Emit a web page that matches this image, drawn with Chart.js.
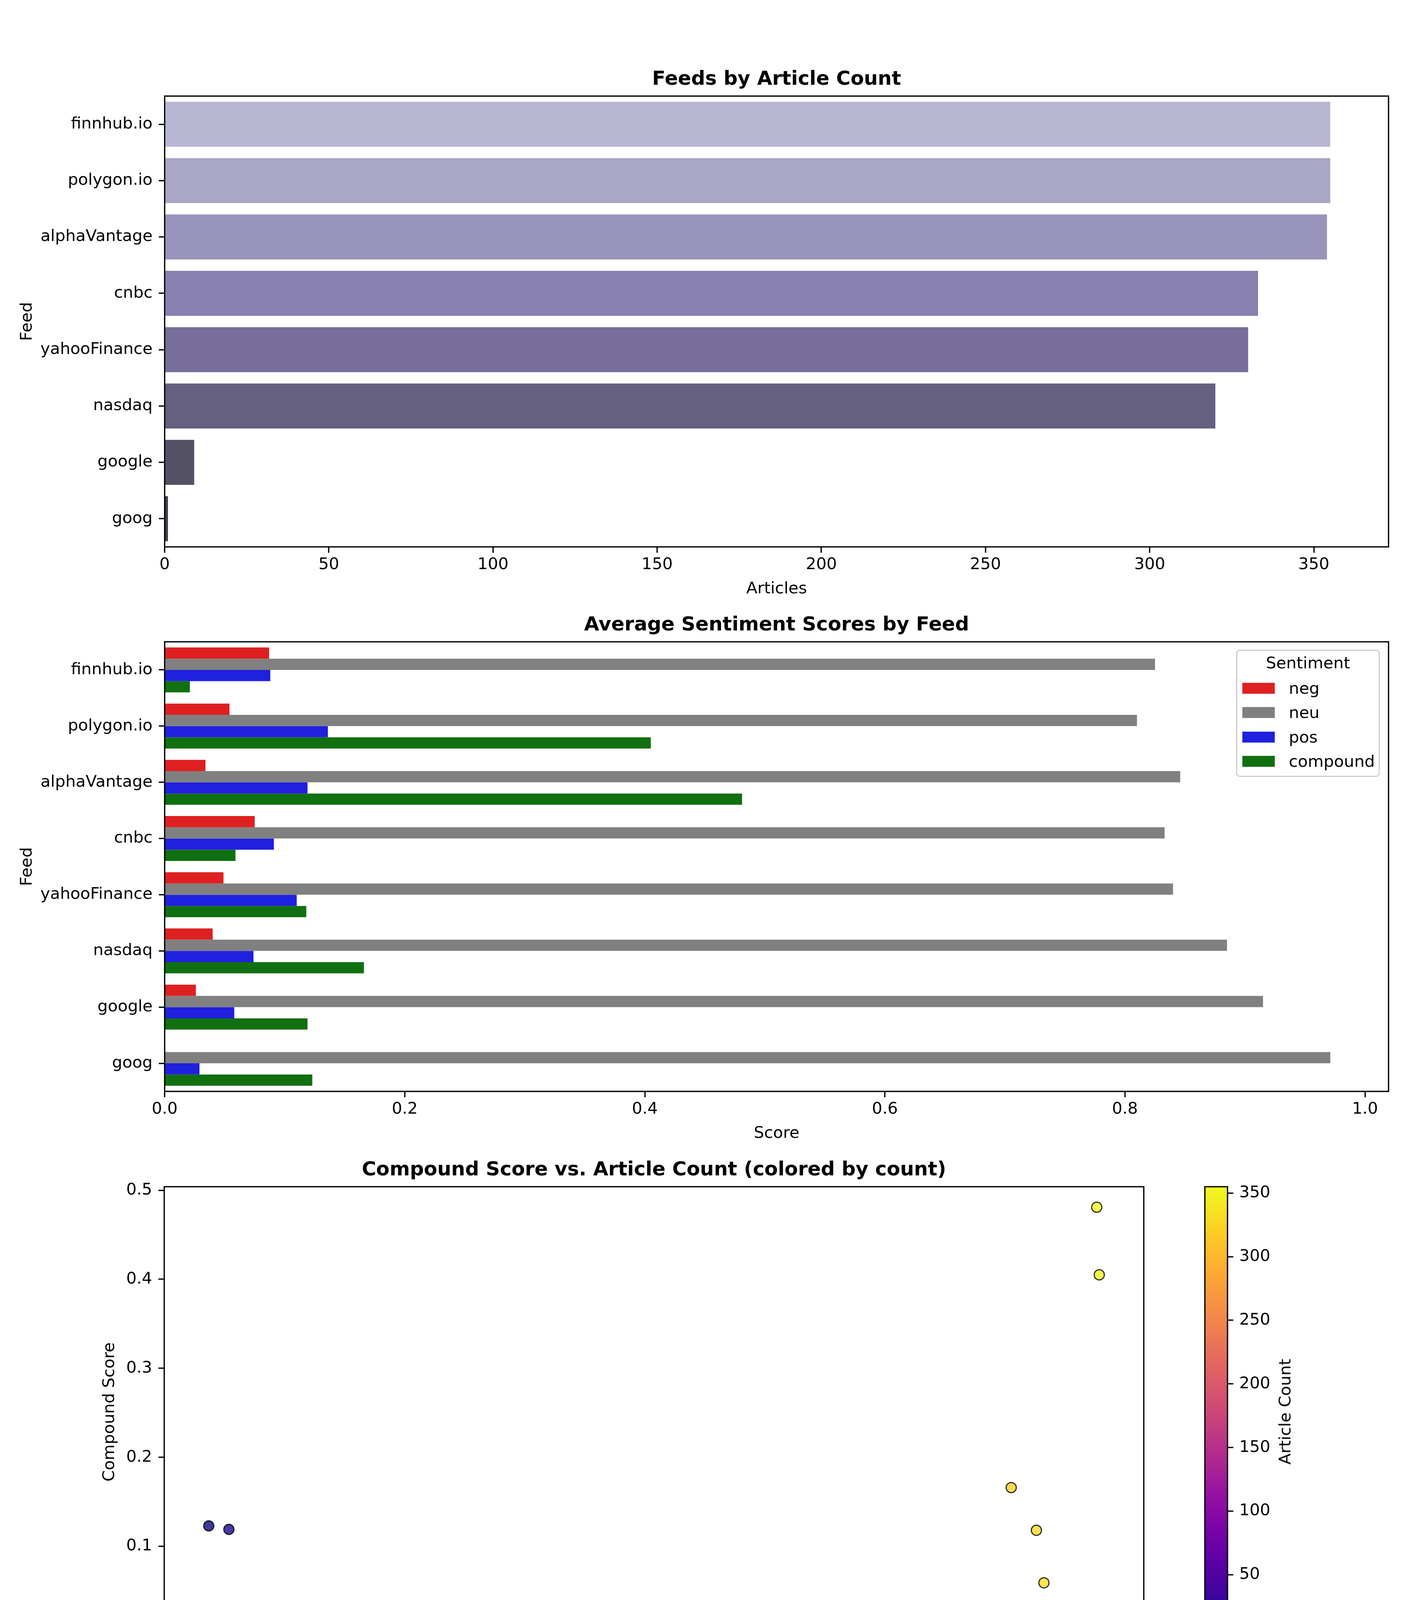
<!DOCTYPE html>
<html lang="en">
<head>
  <meta charset="UTF-8">
  <title>Feed Sentiment Overview</title>
  <script src="https://cdn.jsdelivr.net/npm/chart.js"></script>
  <style>
    body {
      margin: 0;
      width: 3600px;
      height: 4580px;
      overflow: hidden;
      position: relative;
      background: #ffffff;
      font-family: 'DejaVu Sans', sans-serif;
      color: #000;
    }
    canvas { position: absolute; }
    #legend {
      position: absolute;
      left: 3165px;
      top: 1663px;
      width: 368px;
      height: 326px;
      box-sizing: border-box;
      border: 3px solid #cccccc;
      border-radius: 10px;
      background: rgba(255, 255, 255, 0.8);
    }
    #legend .title {
      position: absolute;
      left: 0;
      right: 0;
      top: 10px;
      text-align: center;
      font-size: 41.7px;
      line-height: 41.7px;
    }
    #legend .row {
      position: absolute;
      left: 0;
      right: 0;
      height: 41.7px;
      font-size: 41.7px;
      line-height: 41.7px;
    }
    #legend .swatch {
      position: absolute;
      left: 13px;
      top: 7px;
      width: 83px;
      height: 28px;
    }
    #legend .label { position: absolute; left: 132px; top: 0; }
    #cbLabel {
      position: absolute;
      left: 3290px;
      top: 3614px;
      transform: translate(-50%, -50%) rotate(-90deg);
      white-space: nowrap;
      font-size: 41.7px;
      line-height: 41.7px;
    }
    #footer {
      position: absolute;
      left: 0;
      top: 4529px;
      width: 3600px;
      text-align: center;
      font-family: 'Liberation Sans', Arial, sans-serif;
      font-size: 28px;
      line-height: 28px;
    }
  </style>
</head>
<body>
  <canvas id="countChart" width="3600" height="1533" style="left:0;top:0;width:3600px;height:1533px"></canvas>
  <canvas id="sentChart" width="3600" height="1387" style="left:0;top:1540px;width:3600px;height:1387px"></canvas>
  <canvas id="scatterChart" width="3000" height="1389" style="left:0;top:2935px;width:3000px;height:1389px"></canvas>
  <canvas id="cbChart" width="600" height="1389" style="left:3000px;top:2935px;width:600px;height:1389px"></canvas>
  <div id="legend"><div class="title">Sentiment</div></div>
  <div id="cbLabel">Article Count</div>
  <div id="footer">For informational and research purposes only. Not investment advice. No trading or investment decisions should be made solely from this analysis. © 2025-2026 Gavin Powell. All rights reserved.</div>

  <script>
    // values
    const feeds = ['finnhub.io', 'polygon.io', 'alphaVantage', 'cnbc', 'yahooFinance', 'nasdaq', 'google', 'goog'];
    const articleCounts = [355, 355, 354, 333, 330, 320, 9, 1];
    const negScores = [0.087, 0.054, 0.034, 0.075, 0.049, 0.040, 0.026, 0.0];
    const neuScores = [0.825, 0.810, 0.846, 0.833, 0.840, 0.885, 0.915, 0.971];
    const posScores = [0.088, 0.136, 0.119, 0.091, 0.110, 0.074, 0.058, 0.029];
    const compoundScores = [0.021, 0.405, 0.481, 0.059, 0.118, 0.166, 0.119, 0.123];
    const sentimentNames = ['neg', 'neu', 'pos', 'compound'];
    const countTicks = [0, 50, 100, 150, 200, 250, 300, 350];
    const scoreTicks = [0, 0.2, 0.4, 0.6, 0.8, 1.0];

    const feedColors = ['#b7b7d3', '#a9a6c6', '#9894bb', '#8880ae', '#776f99', '#655f80', '#545066', '#3f3c4a'];
    const sentimentColors = ['#df2020', '#808080', '#2020df', '#107010'];
    // matplotlib plasma, 11 evenly spaced samples
    const plasma = ['#0d0887', '#41049d', '#6a00a8', '#8f0da4', '#b12a90', '#cc4778',
                    '#e16462', '#f2844b', '#fca636', '#fcce25', '#f0f921'];

    Chart.defaults.font.family = 'DejaVu Sans';
    Chart.defaults.font.size = 41.7;
    Chart.defaults.color = '#000';
    Chart.defaults.animation = false;

    function hexToRgb(h) {
      return [parseInt(h.slice(1, 3), 16), parseInt(h.slice(3, 5), 16), parseInt(h.slice(5, 7), 16)];
    }

    function plasmaColor(t, alpha) {
      t = Math.min(1, Math.max(0, t));
      const pos = t * (plasma.length - 1);
      const i = Math.min(Math.floor(pos), plasma.length - 2);
      const f = pos - i;
      const a = hexToRgb(plasma[i]), b = hexToRgb(plasma[i + 1]);
      const c = a.map((v, k) => Math.round(v + (b[k] - v) * f));
      return `rgba(${c[0]}, ${c[1]}, ${c[2]}, ${alpha})`;
    }

    // full box round the axes, like matplotlib spines
    const framePlugin = {
      id: 'frame',
      afterDraw(chart) {
        const { ctx, chartArea: a } = chart;
        ctx.save();
        ctx.strokeStyle = '#000';
        ctx.lineWidth = 3.3;
        ctx.strokeRect(a.left, a.top, a.right - a.left, a.bottom - a.top);
        ctx.restore();
      }
    };

    function tickGrid() {
      return { display: true, drawOnChartArea: false, drawTicks: true, tickLength: 15,
               tickWidth: 3.3, tickColor: '#000', offset: false };
    }

    function titleOpts(text, padTop) {
      return { display: true, text: text, fullSize: false, color: '#000',
               font: { size: 50, weight: 'bold' }, padding: { top: padTop, bottom: 12 } };
    }

    const countMax = Math.max(...articleCounts);
    const countMin = Math.min(...articleCounts);

    // 1. Feeds by article count
    new Chart(document.getElementById('countChart'), {
      type: 'bar',
      data: {
        labels: feeds,
        datasets: [{
          label: 'Articles',
          data: articleCounts,
          backgroundColor: feedColors,
          categoryPercentage: 0.8,
          barPercentage: 1.0
        }]
      },
      options: {
        indexAxis: 'y',
        responsive: false,
        devicePixelRatio: 1,
        layout: { padding: { left: 0, right: 44.7, top: 0, bottom: 0 } },
        plugins: {
          legend: { display: false },
          tooltip: { enabled: false },
          title: titleOpts('Feeds by Article Count', 174)
        },
        scales: {
          x: {
            min: 0,
            max: countMax * 1.05,
            afterBuildTicks: s => { s.ticks = countTicks.map(v => ({ value: v })); },
            ticks: { padding: 6 },
            grid: tickGrid(),
            border: { display: false },
            title: { display: true, text: 'Articles', padding: { top: 0, bottom: 0 } },
            afterFit: s => { s.height = 133; }
          },
          y: {
            ticks: { padding: 16, autoSkip: false },
            grid: tickGrid(),
            border: { display: false },
            title: { display: true, text: 'Feed', padding: { top: 45, bottom: 0 } },
            afterFit: s => { s.width = 421.6; }
          }
        }
      },
      plugins: [framePlugin]
    });

    // 2. Average sentiment scores by feed
    const sentimentSeries = [negScores, neuScores, posScores, compoundScores];
    const scoreMax = Math.max(...sentimentSeries.flat());
    const sentChart = new Chart(document.getElementById('sentChart'), {
      type: 'bar',
      data: {
        labels: feeds,
        datasets: sentimentSeries.map((vals, i) => ({
          label: sentimentNames[i],
          data: vals,
          backgroundColor: sentimentColors[i],
          categoryPercentage: 0.8,
          barPercentage: 1.0
        }))
      },
      options: {
        indexAxis: 'y',
        responsive: false,
        devicePixelRatio: 1,
        layout: { padding: { left: 0, right: 44.7, top: 0, bottom: 0 } },
        plugins: {
          legend: { display: false },
          tooltip: { enabled: false },
          title: titleOpts('Average Sentiment Scores by Feed', 31)
        },
        scales: {
          x: {
            min: 0,
            max: scoreMax * 1.05,
            afterBuildTicks: s => { s.ticks = scoreTicks.map(v => ({ value: v })); },
            ticks: { padding: 6, callback: v => Number(v).toFixed(1) },
            grid: tickGrid(),
            border: { display: false },
            title: { display: true, text: 'Score', padding: { top: 0, bottom: 0 } },
            afterFit: s => { s.height = 133; }
          },
          y: {
            ticks: { padding: 16, autoSkip: false },
            grid: tickGrid(),
            border: { display: false },
            title: { display: true, text: 'Feed', padding: { top: 45, bottom: 0 } },
            afterFit: s => { s.width = 421.6; }
          }
        }
      },
      plugins: [framePlugin]
    });

    // legend box built from the chart's datasets
    const legendBox = document.getElementById('legend');
    const rowCentres = [96, 158, 221, 283];
    sentChart.data.datasets.forEach((ds, i) => {
      const row = document.createElement('div');
      row.className = 'row';
      row.style.top = (rowCentres[i] - 20.85) + 'px';
      const sw = document.createElement('span');
      sw.className = 'swatch';
      sw.style.background = ds.backgroundColor;
      const lb = document.createElement('span');
      lb.className = 'label';
      lb.textContent = ds.label;
      row.appendChild(sw);
      row.appendChild(lb);
      legendBox.appendChild(row);
    });

    // 3. Compound score vs article count
    const cMin = Math.min(...compoundScores), cMax = Math.max(...compoundScores);
    const cPad = (cMax - cMin) * 0.05;
    const aPad = (countMax - countMin) * 0.05;
    new Chart(document.getElementById('scatterChart'), {
      type: 'scatter',
      data: {
        datasets: [{
          label: 'Feeds',
          data: articleCounts.map((c, i) => ({ x: c, y: compoundScores[i] })),
          pointBackgroundColor: articleCounts.map(c => plasmaColor((c - countMin) / (countMax - countMin), 0.8)),
          pointBorderColor: 'rgba(0, 0, 0, 0.8)',
          pointBorderWidth: 3,
          pointRadius: 13
        }]
      },
      options: {
        responsive: false,
        devicePixelRatio: 1,
        layout: { padding: { left: 0, right: 71.4, top: 0, bottom: 0 } },
        plugins: {
          legend: { display: false },
          tooltip: { enabled: false },
          title: titleOpts('Compound Score vs. Article Count (colored by count)', 31)
        },
        scales: {
          x: {
            type: 'linear',
            min: countMin - aPad,
            max: countMax + aPad,
            afterBuildTicks: s => { s.ticks = countTicks.map(v => ({ value: v })); },
            ticks: { padding: 6 },
            grid: tickGrid(),
            border: { display: false },
            title: { display: true, text: 'Articles', padding: { top: 0, bottom: 0 } },
            afterFit: s => { s.height = 133; }
          },
          y: {
            min: cMin - cPad,
            max: cMax + cPad,
            ticks: { stepSize: 0.1, includeBounds: false, padding: 16, callback: v => Number(v).toFixed(1) },
            grid: tickGrid(),
            border: { display: false },
            title: { display: true, text: 'Compound Score', padding: { top: 256, bottom: 0 } },
            afterFit: s => { s.width = 420.5; }
          }
        }
      },
      plugins: [framePlugin]
    });

    // colour bar for the scatter
    new Chart(document.getElementById('cbChart'), {
      type: 'bar',
      data: {
        labels: ['Article Count'],
        datasets: [{
          label: 'Article Count',
          data: [[countMin, countMax]],
          categoryPercentage: 1,
          barPercentage: 1,
          backgroundColor: ctx => {
            const area = ctx.chart.chartArea;
            if (!area) return plasma[5];
            const g = ctx.chart.ctx.createLinearGradient(0, area.bottom, 0, area.top);
            plasma.forEach((c, i) => g.addColorStop(i / (plasma.length - 1), c));
            return g;
          }
        }]
      },
      options: {
        responsive: false,
        devicePixelRatio: 1,
        layout: { padding: { left: 85, right: 0, top: 103, bottom: 133 } },
        plugins: { legend: { display: false }, tooltip: { enabled: false } },
        scales: {
          x: { display: false },
          y: {
            position: 'right',
            min: countMin,
            max: countMax,
            ticks: { stepSize: 50, includeBounds: false, padding: 15 },
            grid: tickGrid(),
            border: { display: false },
            afterFit: s => { s.width = 457; }
          }
        }
      },
      plugins: [framePlugin]
    });
  </script>
</body>
</html>
